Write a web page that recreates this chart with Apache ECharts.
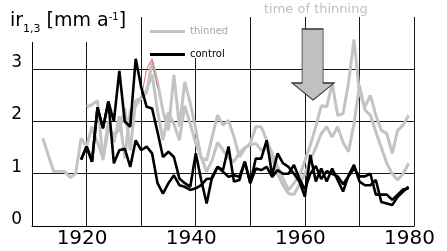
<!DOCTYPE html>
<html>
<head>
<meta charset="utf-8">
<title>ir 1,3</title>
<script src="https://cdn.jsdelivr.net/npm/echarts@6/dist/echarts.min.js"></script>
<style>
  html, body { margin: 0; padding: 0; background: #fff; }
  #main { width: 447px; height: 251px; }
</style>
</head>
<body>
<div id="main"></div>
<script>
// grey: thinned plots, black: control plots (one value per year)
var thinnedAStart = 1912;
var thinnedA = [1.68, 1.35, 1.04, 1.05, 1.04, 0.93, 1.0, 1.68, 1.52, 1.9,
                1.6, 1.3, 2.0, 1.6, 2.1, 1.3, 2.2, 2.3, 2.45, 2.6,
                2.9, 2.2, 1.64, 2.18, 1.95, 1.64, 2.3, 1.95, 1.58, 1.32,
                1.04, 1.26, 1.6, 1.45, 1.3, 1.23, 1.4, 1.5, 1.55, 1.58,
                1.45, 1.5, 1.3, 1.0, 0.78, 0.62, 0.6, 0.8, 1.0, 1.26,
                1.5, 1.77, 1.9, 1.7, 1.9, 1.6, 1.42, 1.96, 2.69, 2.22,
                2.12, 1.8, 1.5, 1.2, 1.0, 0.88, 1.0, 1.2];
var thinnedBStart = 1920;
var thinnedB = [2.28, 2.32, 2.4, 1.26, 1.87, 1.75, 1.83, 2.25, 1.45, 2.4,
                2.45, 2.55, 3.15, 2.75, 2.2, 1.83, 2.89, 1.9, 2.76, 2.35,
                1.85, 1.3, 1.26, 1.7, 2.12, 1.93, 2.02, 1.71, 1.32, 1.48,
                1.58, 1.9, 1.9, 1.64, 1.39, 1.13, 0.91, 0.69, 0.82, 0.95,
                1.25, 1.55, 1.9, 2.3, 2.28, 2.73, 2.12, 2.15, 2.75, 3.57,
                2.54, 2.28, 2.5, 2.12, 1.83, 1.77, 1.39, 1.83, 1.93, 2.12];
var controlStart = 1919;
var controlA = [1.27, 1.52, 1.23, 2.27, 1.87, 2.38, 2.0, 2.97, 2.0, 1.9,
                3.2, 2.66, 2.28, 2.25, 1.8, 1.32, 1.42, 1.32, 0.91, 0.82,
                0.75, 1.39, 0.88, 0.43, 0.94, 1.13, 1.07, 1.52, 0.85, 0.88,
                1.23, 0.82, 1.29, 1.29, 1.64, 0.97, 1.39, 1.2, 1.13, 1.0,
                0.85, 0.56, 1.36, 0.85, 1.1, 0.85, 1.1, 0.88, 0.66, 0.97,
                1.17, 0.85, 0.78, 0.78, 0.88, 0.46, 0.43, 0.4, 0.56, 0.66,
                0.75];
var controlB = [1.27, 1.52, 1.23, 2.27, 1.87, 2.38, 1.2, 1.45, 1.48, 1.13,
                1.64, 1.45, 1.52, 1.39, 0.82, 0.62, 0.82, 0.97, 0.78, 0.75,
                0.69, 0.72, 0.78, 0.9, 0.91, 1.13, 1.04, 0.94, 0.97, 0.94,
                1.23, 0.82, 1.1, 1.07, 1.13, 0.94, 1.07, 1.0, 1.0, 1.17,
                0.9, 0.7, 1.0, 1.15, 0.9, 1.05, 1.0, 0.95, 0.8, 0.95,
                1.1, 0.95, 0.95, 1.0, 0.6, 0.6, 0.6, 0.5, 0.6, 0.7,
                0.72];
// short red trace around 1930
var redStart = 1930;
var redTrace = [2.45, 3.0, 3.2, 2.65];

var yTicks = [0, 1, 2, 3];
var xLabelYears = [1920, 1940, 1960, 1980];
var arrowAt = [1961.5, 3.09];

function pairs(start, vals) {
    return vals.map(function (v, i) { return [start + i, v]; });
}

var grey = '#c3c3c3';
var font = 'DejaVu Sans';

var myChart = echarts.init(document.getElementById('main'));

function lineSeries(name, start, vals, color, width) {
    return {
        name: name,
        type: 'line',
        data: pairs(start, vals),
        symbol: 'none',
        color: color,
        lineStyle: { color: color, width: width },
        itemStyle: { color: color }
    };
}

var sA = lineSeries('thinned', thinnedAStart, thinnedA, grey, 3);
var sB = lineSeries('thinned', thinnedBStart, thinnedB, grey, 3);
var sR = lineSeries('red', redStart, redTrace, '#e07070', 1);
var cA = lineSeries('control', controlStart, controlA, '#000', 2.6);
var cB = lineSeries('control', controlStart, controlB, '#000', 2.6);

cB.markPoint = {
    silent: true,
    symbol: 'path://M10,0L31,0L31,54L42,54L21,71L0,54L10,54Z',
    symbolSize: [42, 71],
    itemStyle: { color: '#c0c0c0', borderColor: '#333', borderWidth: 1 },
    label: { show: false },
    data: [{ coord: arrowAt }]
};

var option = {
    animation: false,
    backgroundColor: '#fff',
    title: [{
        text: '{a|ir}{b|1,3}{a| [mm a}{c|-1}{a|]}',
        left: 10,
        top: 11,
        padding: 0,
        textStyle: {
            fontWeight: 'normal',
            rich: {
                a: { fontFamily: font, fontSize: 19, fontWeight: 'normal', lineHeight: 20, color: '#000' },
                b: { fontFamily: font, fontSize: 11, fontWeight: 'normal', lineHeight: 12, padding: [16, 0, 0, 0], color: '#000' },
                c: { fontFamily: font, fontSize: 10, fontWeight: 'normal', lineHeight: 12, padding: [0, 0, 8, 0], color: '#000' }
            }
        }
    }, {
        text: 'time of thinning',
        left: 264,
        top: 3,
        padding: 0,
        textStyle: { fontFamily: font, fontSize: 13, lineHeight: 14, fontWeight: 'normal', color: '#c0c0c0' }
    }],
    legend: {
        orient: 'vertical',
        left: 150,
        top: 26.5,
        padding: 0,
        icon: 'rect',
        itemWidth: 35,
        itemHeight: 3,
        itemGap: 13,
        selectedMode: false,
        textStyle: { fontFamily: font, fontSize: 10 },
        data: [
            { name: 'thinned', textStyle: { color: '#a8a8a8' } },
            { name: 'control', textStyle: { color: '#000' } }
        ]
    },
    graphic: [
        { type: 'rect', z: 1, shape: { x: 0, y: 0, width: 138, height: 42 }, style: { fill: '#fff' } },
        { type: 'rect', z: 1, shape: { x: 147, y: 0, width: 103, height: 58 }, style: { fill: '#fff' } }
    ],
    grid: { left: 32, right: 22, top: 17, bottom: 25 },
    xAxis: {
        type: 'value',
        min: 1910,
        max: 1980,
        interval: 10,
        axisLine: { show: true, lineStyle: { color: '#000', width: 1 } },
        axisTick: { show: false },
        splitLine: { show: true, lineStyle: { color: '#1a1a1a', width: 1 } },
        axisLabel: {
            margin: 3,
            fontFamily: font,
            fontSize: 20,
            lineHeight: 20,
            color: '#000',
            padding: [0, 9, 0, 0],
            formatter: function (v) { return xLabelYears.indexOf(v) >= 0 ? String(v) : ''; }
        }
    },
    yAxis: {
        type: 'value',
        min: 0,
        max: 3.999,
        interval: 1,
        axisLine: { show: true, lineStyle: { color: '#000', width: 1 } },
        axisTick: { show: false },
        splitLine: { show: true, showMaxLine: false, lineStyle: { color: '#1a1a1a', width: 1 } },
        axisLabel: {
            margin: 10,
            fontFamily: font,
            fontSize: 17,
            lineHeight: 13,
            verticalAlign: 'bottom',
            color: '#000',
            formatter: function (v) { return yTicks.indexOf(v) >= 0 ? String(v) : ''; }
        }
    },
    series: [sA, sB, sR, cA, cB]
};

myChart.setOption(option);
</script>
</body>
</html>
